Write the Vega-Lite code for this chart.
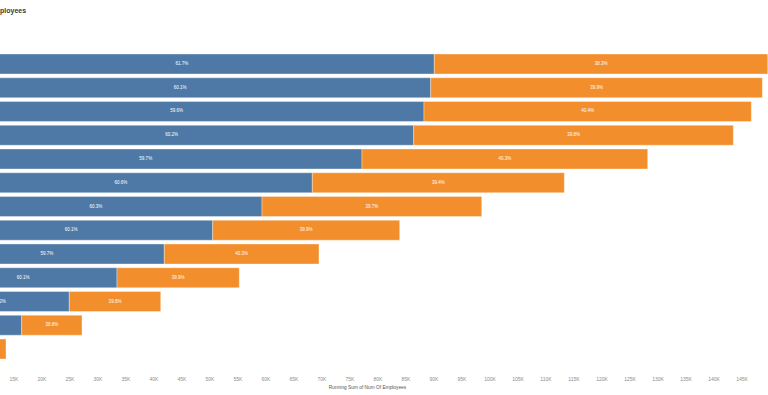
{
  "$schema": "https://vega.github.io/schema/vega-lite/v6.json",
  "width": 768,
  "height": 309,
  "autosize": {"type": "none"},
  "padding": {"top": 52, "left": 0, "right": 0, "bottom": 34},
  "title": {"text": "ployees", "anchor": "start", "frame": "group", "font": "Liberation Sans", "fontSize": 7, "fontWeight": "bold", "color": "#3a3a3a", "offset": 38},
  "config": {"view": {"stroke": null}},
  "data": {"values": [
    {"row": 1, "series": "Series 1", "k": 1, "value": 90140, "label": "61.7%"},
    {"row": 1, "series": "Series 2", "k": 2, "value": 59540, "label": "38.3%"},
    {"row": 2, "series": "Series 1", "k": 1, "value": 89500, "label": "60.1%"},
    {"row": 2, "series": "Series 2", "k": 2, "value": 59220, "label": "39.9%"},
    {"row": 3, "series": "Series 1", "k": 1, "value": 88300, "label": "59.6%"},
    {"row": 3, "series": "Series 2", "k": 2, "value": 58450, "label": "40.4%"},
    {"row": 4, "series": "Series 1", "k": 1, "value": 86460, "label": "60.2%"},
    {"row": 4, "series": "Series 2", "k": 2, "value": 57080, "label": "39.8%"},
    {"row": 5, "series": "Series 1", "k": 1, "value": 77230, "label": "59.7%"},
    {"row": 5, "series": "Series 2", "k": 2, "value": 51020, "label": "40.3%"},
    {"row": 6, "series": "Series 1", "k": 1, "value": 68360, "label": "60.6%"},
    {"row": 6, "series": "Series 2", "k": 2, "value": 45000, "label": "39.4%"},
    {"row": 7, "series": "Series 1", "k": 1, "value": 59380, "label": "60.3%"},
    {"row": 7, "series": "Series 2", "k": 2, "value": 39230, "label": "39.7%"},
    {"row": 8, "series": "Series 1", "k": 1, "value": 50570, "label": "60.1%"},
    {"row": 8, "series": "Series 2", "k": 2, "value": 33390, "label": "39.9%"},
    {"row": 9, "series": "Series 1", "k": 1, "value": 41930, "label": "59.7%"},
    {"row": 9, "series": "Series 2", "k": 2, "value": 27620, "label": "40.3%"},
    {"row": 10, "series": "Series 1", "k": 1, "value": 33480, "label": "60.1%"},
    {"row": 10, "series": "Series 2", "k": 2, "value": 21840, "label": "39.9%"},
    {"row": 11, "series": "Series 1", "k": 1, "value": 24960, "label": "60.2%"},
    {"row": 11, "series": "Series 2", "k": 2, "value": 16330, "label": "39.8%"},
    {"row": 12, "series": "Series 1", "k": 1, "value": 16460, "label": "61.2%"},
    {"row": 12, "series": "Series 2", "k": 2, "value": 10770, "label": "38.8%"},
    {"row": 13, "series": "Series 1", "k": 1, "value": 8200, "label": "60.0%"},
    {"row": 13, "series": "Series 2", "k": 2, "value": 5460, "label": "40.0%"}
  ]},
  "encoding": {
    "y": {"field": "row", "type": "ordinal", "axis": null, "scale": {"paddingInner": 0.16, "paddingOuter": 0.085}}
  },
  "layer": [
    {
      "mark": {"type": "bar", "clip": true, "stroke": "#ffffff", "strokeOpacity": 0.35, "strokeWidth": 1},
      "encoding": {
        "x": {
          "field": "value", "type": "quantitative", "stack": "zero",
          "scale": {"domain": [12590, 149730], "nice": false, "zero": false},
          "axis": {
            "title": "Running Sum of Num Of Employees",
            "tickCount": 30,
            "labelExpr": "replace(format(datum.value, '~s'), 'k', 'K')",
            "domain": false, "ticks": false, "grid": false,
            "labelFlush": false, "labelOverlap": false, "labelBound": false, "labelSeparation": 0,
            "labelFont": "Liberation Sans", "labelFontSize": 5, "labelColor": "#8c8c8c", "labelPadding": 15,
            "titleFont": "Liberation Sans", "titleFontSize": 4.8, "titleFontWeight": "normal", "titleColor": "#555555", "titlePadding": 3, "titleX": 367
          }
        },
        "color": {"field": "series", "type": "nominal", "scale": {"domain": ["Series 1", "Series 2"], "range": ["#4e79a7", "#f28e2b"]}, "legend": null},
        "order": {"field": "k", "type": "quantitative"}
      }
    },
    {
      "mark": {"type": "text", "clip": true, "color": "#ffffff", "fontSize": 4.5, "font": "Liberation Sans"},
      "encoding": {
        "x": {"field": "value", "type": "quantitative", "stack": "zero", "bandPosition": 0.5},
        "detail": {"field": "series", "type": "nominal"},
        "order": {"field": "k", "type": "quantitative"},
        "text": {"field": "label", "type": "nominal"}
      }
    }
  ]
}
